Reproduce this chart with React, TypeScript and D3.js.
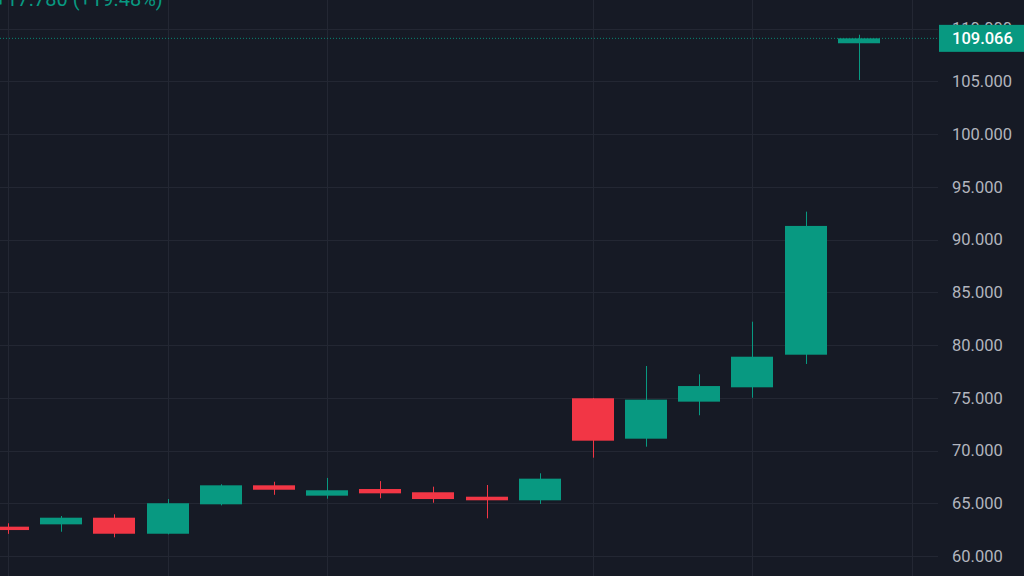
import React from "react";
import * as d3 from "d3";

const candleIndex = [0, 1, 2, 3, 4, 5, 6, 7, 8, 9, 10, 11, 12, 13, 14, 15, 16];
const opens = [62.78, 63.0, 63.63, 62.11, 64.9, 66.7, 65.72, 66.35, 66.04, 65.62, 65.28, 74.95, 71.12, 74.63, 75.99, 79.08, 108.6];
const closes = [62.46, 63.63, 62.11, 65.0, 66.7, 66.28, 66.23, 65.94, 65.4, 65.28, 67.33, 70.93, 74.82, 76.11, 78.89, 91.286, 109.066];
const highs = [63.1, 63.79, 63.95, 65.4, 66.8, 67.04, 67.4, 67.1, 66.57, 66.73, 67.84, 74.98, 78.01, 77.22, 82.21, 92.64, 109.41];
const lows = [62.1, 62.3, 61.77, 62.05, 64.8, 65.8, 65.43, 65.47, 65.05, 63.57, 64.93, 69.32, 70.36, 73.34, 75.0, 78.2, 105.12];
const yTicks = [60, 65, 70, 75, 80, 85, 90, 95, 100, 105, 110];
const verticalGridIndex = [0, 3, 6, 11, 14, 17];
const lastPrice = 109.066;
const changeText = "+17.780 (+19.48%)";

const W = 1024;
const H = 576;
const BG = "#161A25";
const GRID = "#232733";
const UP = "#089981";
const DOWN = "#F23645";
const FONT = "Roboto, 'Noto Sans', sans-serif";

export default function App() {
  const x = d3.scaleLinear().domain([0, 17]).range([8, 912]);
  const y = d3.scaleLinear().domain([60, 110]).range([556, 28.5]);
  const plotRight = 938;
  const bodyW = 42;
  const fmt = d3.format(".3f");

  return (
    <svg
      width={W}
      height={H}
      style={{ position: "fixed", left: 0, top: 0, display: "block" }}
      xmlns="http://www.w3.org/2000/svg"
    >
      <rect x={0} y={0} width={W} height={H} fill={BG} />
      {verticalGridIndex.map((i) => (
        <line key={"v" + i} x1={Math.round(x(i)) + 0.5} x2={Math.round(x(i)) + 0.5} y1={0} y2={H} stroke={GRID} strokeWidth={1} />
      ))}
      {yTicks.map((t) => (
        <line key={"h" + t} x1={0} x2={plotRight} y1={Math.round(y(t)) + 0.5} y2={Math.round(y(t)) + 0.5} stroke={GRID} strokeWidth={1} />
      ))}
      {yTicks.map((t) => (
        <text key={"l" + t} x={952} y={y(t)} dy="0.36em" fill="#B2B5BE" fontSize={16.5} fontFamily={FONT}>
          {fmt(t)}
        </text>
      ))}
      {candleIndex.map((i) => {
        const o = opens[i];
        const c = closes[i];
        const col = c >= o ? UP : DOWN;
        const cx = Math.round(x(i));
        const top = y(Math.max(o, c));
        const bot = y(Math.min(o, c));
        return (
          <g key={"c" + i}>
            <line x1={cx + 0.5} x2={cx + 0.5} y1={y(highs[i])} y2={y(lows[i])} stroke={col} strokeWidth={1} />
            <rect x={cx - bodyW / 2} y={top} width={bodyW} height={Math.max(1, bot - top)} fill={col} />
          </g>
        );
      })}
      <line x1={0} x2={plotRight} y1={y(lastPrice)} y2={y(lastPrice)} stroke={UP} strokeWidth={1} strokeDasharray="1 2" opacity={0.85} />
      <rect x={939} y={y(lastPrice) - 13.5} width={85} height={27} fill={UP} />
      <text x={952} y={y(lastPrice)} dy="0.36em" fill="#FFFFFF" fontSize={16.5} fontWeight={500} fontFamily={FONT}>
        {fmt(lastPrice)}
      </text>
      <text x={-5} y={6} fill={UP} fontSize={20} fontFamily={FONT}>
        {changeText}
      </text>
    </svg>
  );
}
